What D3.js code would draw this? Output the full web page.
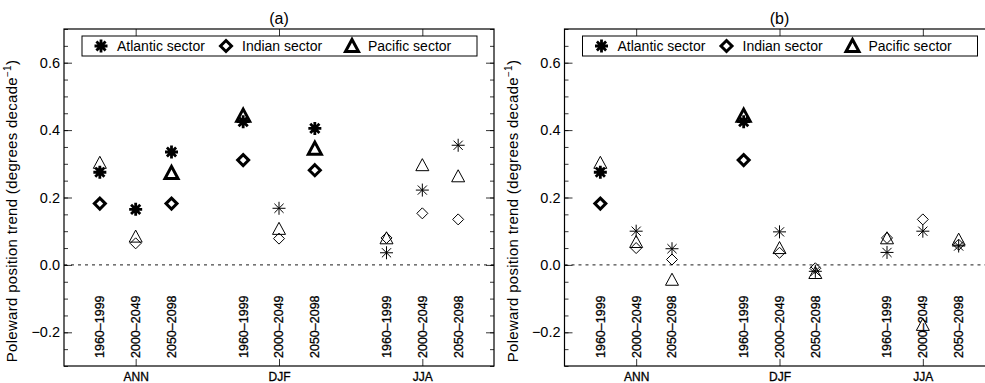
<!DOCTYPE html>
<html>
<head>
<meta charset="utf-8">
<script src="https://cdn.jsdelivr.net/npm/d3@7"></script>
<style>
  body { margin: 0; background: #fff; }
  svg { display: block; }
  text { font-family: "Liberation Sans", Arial, sans-serif; fill: #000; }
</style>
</head>
<body>
<svg id="chart" width="985" height="383"></svg>
<script>
// categories
const seasons = ['ANN', 'DJF', 'JJA'];
const periods = ['1960–1999', '2000–2049', '2050–2098'];
const sectors = ['Atlantic sector', 'Indian sector', 'Pacific sector'];
const yTicks = [-0.2, 0.0, 0.2, 0.4, 0.6];

// trends, one value per season/period (ANN x3, DJF x3, JJA x3)
const atlanticA = [0.275, 0.165, 0.335, 0.425, 0.168, 0.405, 0.036, 0.222, 0.355];
const indianA   = [0.182, 0.064, 0.182, 0.311, 0.078, 0.281, 0.080, 0.153, 0.135];
const pacificA  = [0.303, 0.084, 0.273, 0.443, 0.107, 0.345, 0.079, 0.296, 0.263];
// 1 = drawn with the heavy symbol
const atlanticSigA = [1, 1, 1, 1, 0, 1, 0, 0, 0];
const indianSigA   = [1, 0, 1, 1, 0, 1, 0, 0, 0];
const pacificSigA  = [0, 0, 1, 1, 0, 1, 0, 0, 0];

const atlanticB = [0.275, 0.100, 0.048, 0.425, 0.098, -0.019, 0.037, 0.100, 0.056];
const indianB   = [0.182, 0.050, 0.016, 0.311, 0.036, -0.010, 0.080, 0.135, 0.060];
const pacificB  = [0.303, 0.068, -0.044, 0.443, 0.050, -0.024, 0.079, -0.178, 0.075];
const atlanticSigB = [1, 0, 0, 1, 0, 0, 0, 0, 0];
const indianSigB   = [1, 0, 0, 1, 0, 0, 0, 0, 0];
const pacificSigB  = [0, 0, 0, 1, 0, 0, 0, 0, 0];

// symbol paths, centred on 0,0
const symbolPath = {
    star: (r) => {
        let p = '';
        [90, 0, 45, -45].forEach(a => {
            const dx = r * Math.cos(a * Math.PI / 180), dy = r * Math.sin(a * Math.PI / 180);
            p += `M${-dx},${-dy}L${dx},${dy}`;
        });
        return p;
    },
    diamond: (r) => `M0,${-r}L${r},0L0,${r}L${-r},0Z`,
    triangle: (r) => `M0,${-r}L${r},${r * 0.85}L${-r},${r * 0.85}Z`
};
const sectorSymbol = ['star', 'diamond', 'triangle'];
const symbolSize = [6.5, 5.5, 6.5];

class TrendPanel {
    constructor(_config, _data) {
        this.config = {
            parentElement: _config.parentElement,
            left: _config.left,
            top: 29,
            width: 430,
            height: 337,
            title: _config.title
        };
        this.data = _data;
        this.initVis();
    }

    initVis() {
        let vis = this;
        vis.svg = d3.select(vis.config.parentElement);
        vis.chart = vis.svg.append('g')
            .attr('transform', `translate(${vis.config.left},${vis.config.top})`);

        vis.xScale = d3.scaleLinear().domain([0, 12]).range([0, vis.config.width]);
        vis.yScale = d3.scaleLinear().domain([-0.3, 0.7]).range([vis.config.height, 0]);

        // x position of a season/period slot: one empty slot between seasons
        vis.slotX = (i) => vis.xScale(Math.floor(i / 3) * 4 + (i % 3) + 1);

        vis.renderVis();
    }

    renderVis() {
        let vis = this;
        const w = vis.config.width, h = vis.config.height;

        // minor y ticks, both sides
        const minor = d3.range(-0.3, 0.7001, 0.05);
        vis.chart.append('g').call(d3.axisLeft(vis.yScale).tickValues(minor).tickSize(-4).tickFormat(''))
            .call(g => g.select('.domain').remove());
        vis.chart.append('g').attr('transform', `translate(${w},0)`)
            .call(d3.axisRight(vis.yScale).tickValues(minor).tickSize(-4).tickFormat(''))
            .call(g => g.select('.domain').remove());

        // major y ticks with labels
        vis.chart.append('g')
            .call(d3.axisLeft(vis.yScale).tickValues(yTicks).tickSize(-8).tickPadding(4).tickFormat(d3.format('.1f')))
            .call(g => g.select('.domain').remove())
            .call(g => g.selectAll('text').style('font-size', '14.5px'));
        vis.chart.append('g').attr('transform', `translate(${w},0)`)
            .call(d3.axisRight(vis.yScale).tickValues(yTicks).tickSize(-8).tickFormat(''))
            .call(g => g.select('.domain').remove());

        // x ticks at each season
        vis.chart.append('g').attr('transform', `translate(0,${h})`)
            .call(d3.axisBottom(vis.xScale).tickValues([2, 6, 10]).tickSize(-7).tickPadding(6)
                .tickFormat((d, i) => seasons[i]))
            .call(g => g.select('.domain').remove())
            .call(g => g.selectAll('text').style('font-size', '12px').style('stroke', '#000').style('stroke-width', 0.3));
        vis.chart.append('g')
            .call(d3.axisTop(vis.xScale).tickValues([2, 6, 10]).tickSize(-7).tickFormat(''))
            .call(g => g.select('.domain').remove());

        vis.chart.selectAll('.tick line').attr('stroke', '#000').attr('stroke-width', 0.8);

        // frame
        vis.chart.append('rect')
            .attr('width', w).attr('height', h)
            .attr('fill', 'none').attr('stroke', '#000').attr('stroke-width', 1.2);

        // zero line
        vis.chart.append('line')
            .attr('x1', 0).attr('x2', w)
            .attr('y1', vis.yScale(0)).attr('y2', vis.yScale(0))
            .attr('stroke', '#000').attr('stroke-width', 0.9).attr('stroke-dasharray', '3,4');

        // period labels
        const labels = d3.range(9).map(i => periods[i % 3]);
        vis.chart.selectAll('.period')
            .data(labels)
            .join('text')
                .attr('class', 'period')
                .attr('transform', (d, i) => `translate(${vis.slotX(i)},${h - 8}) rotate(-90)`)
                .attr('dy', '0.35em')
                .style('font-size', '12.5px')
                .style('stroke', '#000').style('stroke-width', 0.3)
                .text(d => d);

        // title
        vis.chart.append('text')
            .attr('x', w / 2).attr('y', -5)
            .attr('text-anchor', 'middle')
            .style('font-size', '16px')
            .text(vis.config.title);

        // y label
        const ylab = vis.chart.append('text')
            .attr('transform', `translate(${-47},${182}) rotate(-90)`)
            .attr('text-anchor', 'middle')
            .style('font-size', '15px')
            .style('letter-spacing', '0.3px');
        ylab.append('tspan').text('Poleward position trend (degrees decade');
        ylab.append('tspan').attr('dy', -6).style('font-size', '10px').text('−1');
        ylab.append('tspan').attr('dy', 6).text(')');

        // legend
        const lg = vis.chart.append('g').attr('transform', 'translate(18,7)');
        lg.append('rect').attr('width', 395).attr('height', 20)
            .attr('fill', '#fff').attr('stroke', '#000').attr('stroke-width', 1);
        const lx = [19, 144, 270];
        sectors.forEach((s, k) => {
            lg.append('path')
                .attr('transform', `translate(${lx[k]},10)`)
                .attr('d', symbolPath[sectorSymbol[k]](symbolSize[k]))
                .attr('fill', 'none').attr('stroke', '#000').attr('stroke-width', k === 0 ? 2.8 : 3);
            lg.append('text')
                .attr('x', lx[k] + 16).attr('y', 15)
                .style('font-size', '14px')
                .text(s);
        });

        // points: Indian, Pacific, then Atlantic on top
        [1, 2, 0].forEach(k => {
            const series = vis.data[k];
            vis.chart.append('g').selectAll('path')
                .data(series.values.map((v, i) => ({ v: v, sig: series.sig[i], i: i })))
                .join('path')
                    .attr('transform', d => `translate(${vis.slotX(d.i)},${vis.yScale(d.v)})`)
                    .attr('d', symbolPath[sectorSymbol[k]](symbolSize[k]))
                    .attr('fill', 'none')
                    .attr('stroke', '#000')
                    .attr('stroke-width', d => d.sig ? (k === 0 ? 2.8 : 3) : 1)
                    .attr('stroke-linejoin', 'miter');
        });
    }
}

new TrendPanel({ parentElement: '#chart', left: 64, title: '(a)' }, [
    { values: atlanticA, sig: atlanticSigA },
    { values: indianA, sig: indianSigA },
    { values: pacificA, sig: pacificSigA }
]);
new TrendPanel({ parentElement: '#chart', left: 564.5, title: '(b)' }, [
    { values: atlanticB, sig: atlanticSigB },
    { values: indianB, sig: indianSigB },
    { values: pacificB, sig: pacificSigB }
]);
</script>
</body>
</html>
